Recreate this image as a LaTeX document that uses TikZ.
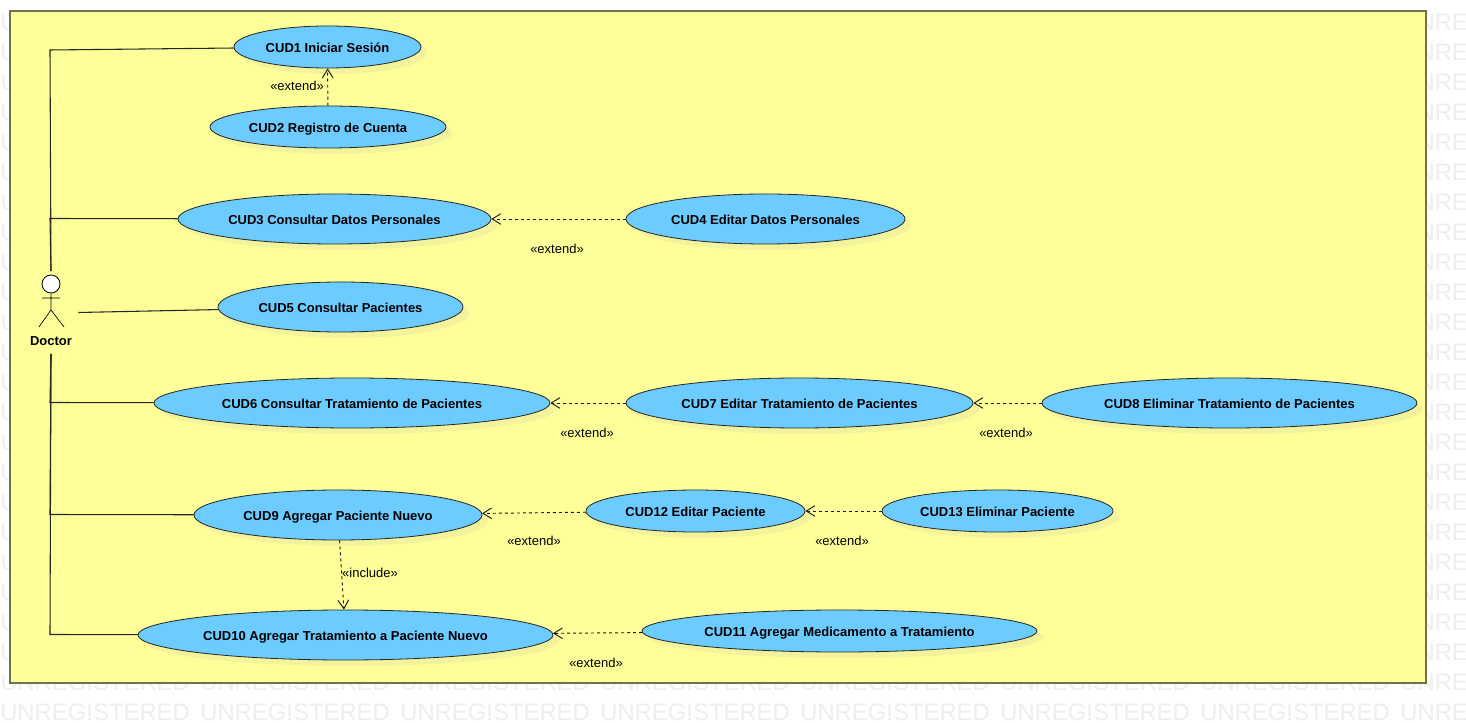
\documentclass[tikz,border=0pt]{standalone}
\usepackage{fontspec}
\setmainfont{Liberation Sans}
\usepackage{tikz}
\usetikzlibrary{arrows.meta,positioning,calc,shapes.geometric,shadows}
\definecolor{framefill}{HTML}{FFFF99}
\definecolor{framedraw}{HTML}{71714F}
\definecolor{casefill}{HTML}{6CCBFF}
\definecolor{caseshadow}{HTML}{F3F39B}
\definecolor{watermark}{HTML}{EEEEEE}
\begin{document}
\begin{tikzpicture}[x=.75pt,y=-.75pt,>=Latex,
  case/.style={draw=black!85,fill=casefill,ellipse,inner sep=0pt,line width=.6pt,
  text height=9.3pt,text depth=1.5pt,
  font=\fontsize{9.75}{12}\selectfont\bfseries,
  drop shadow={shadow xshift=4.5pt,shadow yshift=-4.5pt,fill=caseshadow,opacity=1}},
  dep/.style={dash pattern=on 2.25pt off 2.25pt,black!90,line width=.7pt,-{Straight Barb[length=6.5pt,width=8pt]}},
  stereo/.style={font=\fontsize{9.75}{12}\selectfont,inner sep=0pt},
  assoc/.style={black!85,line width=.8pt},
  wm/.style={watermark,font=\fontsize{17.9}{20}\selectfont,inner sep=0pt,anchor=west}]
\useasboundingbox (0,0) rectangle (1466,723);
% watermark
\foreach \r in {0,...,23} \foreach \c in {0,...,7}
  \node[wm] (w\r-\c) at ({\c*200},{22+\r*30}) {UNREGISTERED};
\node[draw=framedraw,fill=framefill,line width=1.2pt,minimum width=1062pt,minimum height=504pt,inner sep=0pt] (frame) at (718,347) {};
% actor
\node[minimum width=40.5pt,minimum height=61.5pt,inner sep=0pt] (doctor) at (51,312.5) {};
\node[draw=black,fill=white,circle,minimum size=13.5pt,inner sep=0pt,line width=.6pt] (head) at (51,284) {};
\coordinate (hip) at (51,310);
\coordinate (armL) at (42,298);
\coordinate (armR) at (60,298);
\coordinate (legL) at (39,327);
\coordinate (legR) at (64,327);
\draw[line width=.5pt] (head)--(hip) (armL)--(armR) (legL)--(hip)--(legR);
\node[font=\fontsize{9.75}{12}\selectfont\bfseries,inner sep=0pt] (doctorlabel) at (51,341) {Doctor};
% use cases
\foreach \n/\x/\y/\w/\h/\t in {
  cud1/327.5/47/187/42/CUD1 Iniciar Sesión,
  cud2/328/127/236/42/CUD2 Registro de Cuenta,
  cud3/334.5/219/313/50/CUD3 Consultar Datos Personales,
  cud4/765.5/219/279/50/CUD4 Editar Datos Personales,
  cud5/340.5/307/245/50/CUD5 Consultar Pacientes,
  cud6/352/403/396/50/CUD6 Consultar Tratamiento de Pacientes,
  cud7/799.5/403/347/50/CUD7 Editar Tratamiento de Pacientes,
  cud8/1229.5/403/375/50/CUD8 Eliminar Tratamiento de Pacientes,
  cud9/338/515/288/50/CUD9 Agregar Paciente Nuevo,
  cud12/695.5/511/219/42/CUD12 Editar Paciente,
  cud13/997.5/511/231/42/CUD13 Eliminar Paciente,
  cud10/345.5/635/415/50/CUD10 Agregar Tratamiento a Paciente Nuevo,
  cud11/839.5/631/395/42/CUD11 Agregar Medicamento a Tratamiento}
  \node[case,minimum width=.75*\w pt,minimum height=.75*\h pt] (\n) at (\x,\y) {\t};
% actor connectors
\foreach \b/\y/\c in {b1/50/cud1,b3/218.5/cud3} {
  \coordinate (\b) at (50,\y);
  \draw[assoc] (doctor.north)--(\b)--(\c);
}
\foreach \b/\y/\c in {b6/402.5/cud6,b9/514.5/cud9,b10/634.5/cud10} {
  \coordinate (\b) at (50,\y);
  \draw[assoc] (doctor.south)--(\b)--(\c);
}
\draw[assoc] (doctor.east)--(cud5);
% dependencies
\foreach \a/\b in {cud2/cud1,cud4/cud3,cud7/cud6,cud8/cud7,cud12/cud9,cud13/cud12,cud9/cud10,cud11/cud10}
  \draw[dep] (\a)--(\b);
% stereotypes
\node[stereo] (l1) at (297,86) {«extend»};
\node[stereo] (l2) at (557,249) {«extend»};
\node[stereo] (l3) at (587,433) {«extend»};
\node[stereo] (l4) at (1006,433) {«extend»};
\node[stereo] (l5) at (534,541) {«extend»};
\node[stereo] (l6) at (842,541) {«extend»};
\node[stereo] (l7) at (370,573) {«include»};
\node[stereo] (l8) at (596,663) {«extend»};
\end{tikzpicture}
\end{document}
